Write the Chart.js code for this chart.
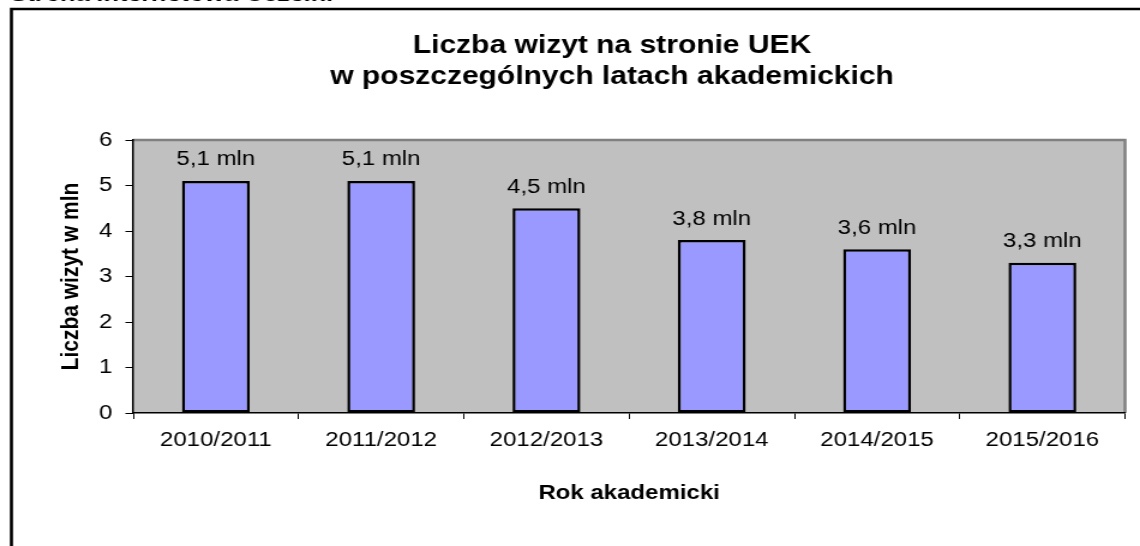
<!DOCTYPE html>
<html>
<head>
<meta charset="utf-8">
<script src="https://cdn.jsdelivr.net/npm/chart.js@4"></script>
<style>
  body { margin: 0; background: #fff; }
  /* the source picture is stretched sideways, so the canvas is too */
  #visitsChart { display: block; width: 1140px !important; height: 546px !important; }
</style>
</head>
<body>
<canvas id="visitsChart" width="950" height="546"></canvas>
<script>
const years = ['2010/2011', '2011/2012', '2012/2013', '2013/2014', '2014/2015', '2015/2016'];
const visits = [5.1, 5.1, 4.5, 3.8, 3.6, 3.3];
const yTicks = [0, 1, 2, 3, 4, 5, 6];
const titleLines = ['Liczba wizyt na stronie UEK', 'w poszczególnych latach akademickich'];
const pageHeading = 'Strona internetowa Uczelni';

const FONT = "'Liberation Sans', Arial, sans-serif";

// white page, outer frame, cut heading and the two line title
const framePlugin = {
    id: 'frame',
    beforeDraw(chart) {
        const ctx = chart.ctx;
        const area = chart.chartArea;
        ctx.save();
        ctx.fillStyle = '#fff';
        ctx.fillRect(0, 0, chart.width, chart.height);

        ctx.fillStyle = '#000';
        ctx.font = 'italic bold 21px ' + FONT;
        ctx.textAlign = 'left';
        ctx.textBaseline = 'alphabetic';
        ctx.fillText(pageHeading, 9, 0.5);

        ctx.strokeStyle = '#000';
        ctx.lineWidth = 2.6;
        ctx.beginPath();
        ctx.moveTo(chart.width + 5, 9);
        ctx.lineTo(9.5, 9);
        ctx.lineTo(9.5, chart.height + 5);
        ctx.stroke();

        ctx.font = 'bold 25px ' + FONT;
        ctx.textAlign = 'center';
        ctx.textBaseline = 'middle';
        titleLines.forEach((line, i) => ctx.fillText(line, 510, 46 + i * 31));

        // plot area
        ctx.fillStyle = '#c0c0c0';
        ctx.fillRect(area.left, area.top, area.right - area.left, area.bottom - area.top);
        ctx.strokeStyle = '#808080';
        ctx.lineWidth = 2.5;
        ctx.beginPath();
        ctx.moveTo(area.left, area.top);
        ctx.lineTo(area.right, area.top);
        ctx.lineTo(area.right, area.bottom);
        ctx.stroke();
        ctx.restore();
    }
};

const barLabels = {
    id: 'barLabels',
    afterDatasetsDraw(chart) {
        const ctx = chart.ctx;
        const meta = chart.getDatasetMeta(0);
        ctx.save();
        ctx.font = '20px ' + FONT;
        ctx.fillStyle = '#000';
        ctx.textAlign = 'center';
        ctx.textBaseline = 'middle';
        meta.data.forEach((bar, i) => {
            ctx.fillText(visits[i].toFixed(1).replace('.', ',') + ' mln', bar.x, bar.y - 21);
        });
        ctx.restore();
    }
};

const ctx = document.getElementById('visitsChart').getContext('2d');
const visitsChart = new Chart(ctx, {
    type: 'bar',
    data: {
        labels: years,
        datasets: [{
            label: 'Liczba wizyt',
            data: visits,
            backgroundColor: '#9999ff',
            borderColor: '#000',
            borderWidth: 2.5,
            borderSkipped: false,
            barPercentage: 0.41,
            categoryPercentage: 1
        }]
    },
    options: {
        responsive: false,
        animation: false,
        devicePixelRatio: 1,
        layout: { padding: { top: 140, right: 12.5, bottom: 0, left: 0 } },
        plugins: {
            legend: { display: false },
            title: { display: false },
            tooltip: { enabled: false }
        },
        scales: {
            x: {
                afterFit: (scale) => { scale.height = 133; },
                grid: { offset: true, drawOnChartArea: false, drawTicks: true, tickLength: 6, color: '#000', lineWidth: 1 },
                border: { color: '#000', width: 1.5 },
                ticks: { color: '#000', font: { family: FONT, size: 20 }, padding: 9, maxRotation: 0 },
                title: {
                    display: true,
                    text: 'Rok akademicki',
                    color: '#000',
                    font: { family: FONT, size: 20, weight: 'bold' },
                    padding: { top: 0, bottom: 41 }
                }
            },
            y: {
                min: 0,
                max: 6,
                afterFit: (scale) => { scale.width = 111; },
                afterBuildTicks: (scale) => { scale.ticks = yTicks.map(v => ({ value: v })); },
                grid: { drawOnChartArea: false, drawTicks: true, tickLength: 6.5, color: '#000', lineWidth: 1 },
                border: { color: '#000', width: 1.5 },
                ticks: { color: '#000', font: { family: FONT, size: 20 }, padding: 11 },
                title: {
                    display: true,
                    text: 'Liczba wizyt w mln',
                    color: '#000',
                    font: { family: FONT, size: 21, weight: 'bold' },
                    padding: { top: 47, bottom: 0 }
                }
            }
        }
    },
    plugins: [framePlugin, barLabels]
});
</script>
</body>
</html>
